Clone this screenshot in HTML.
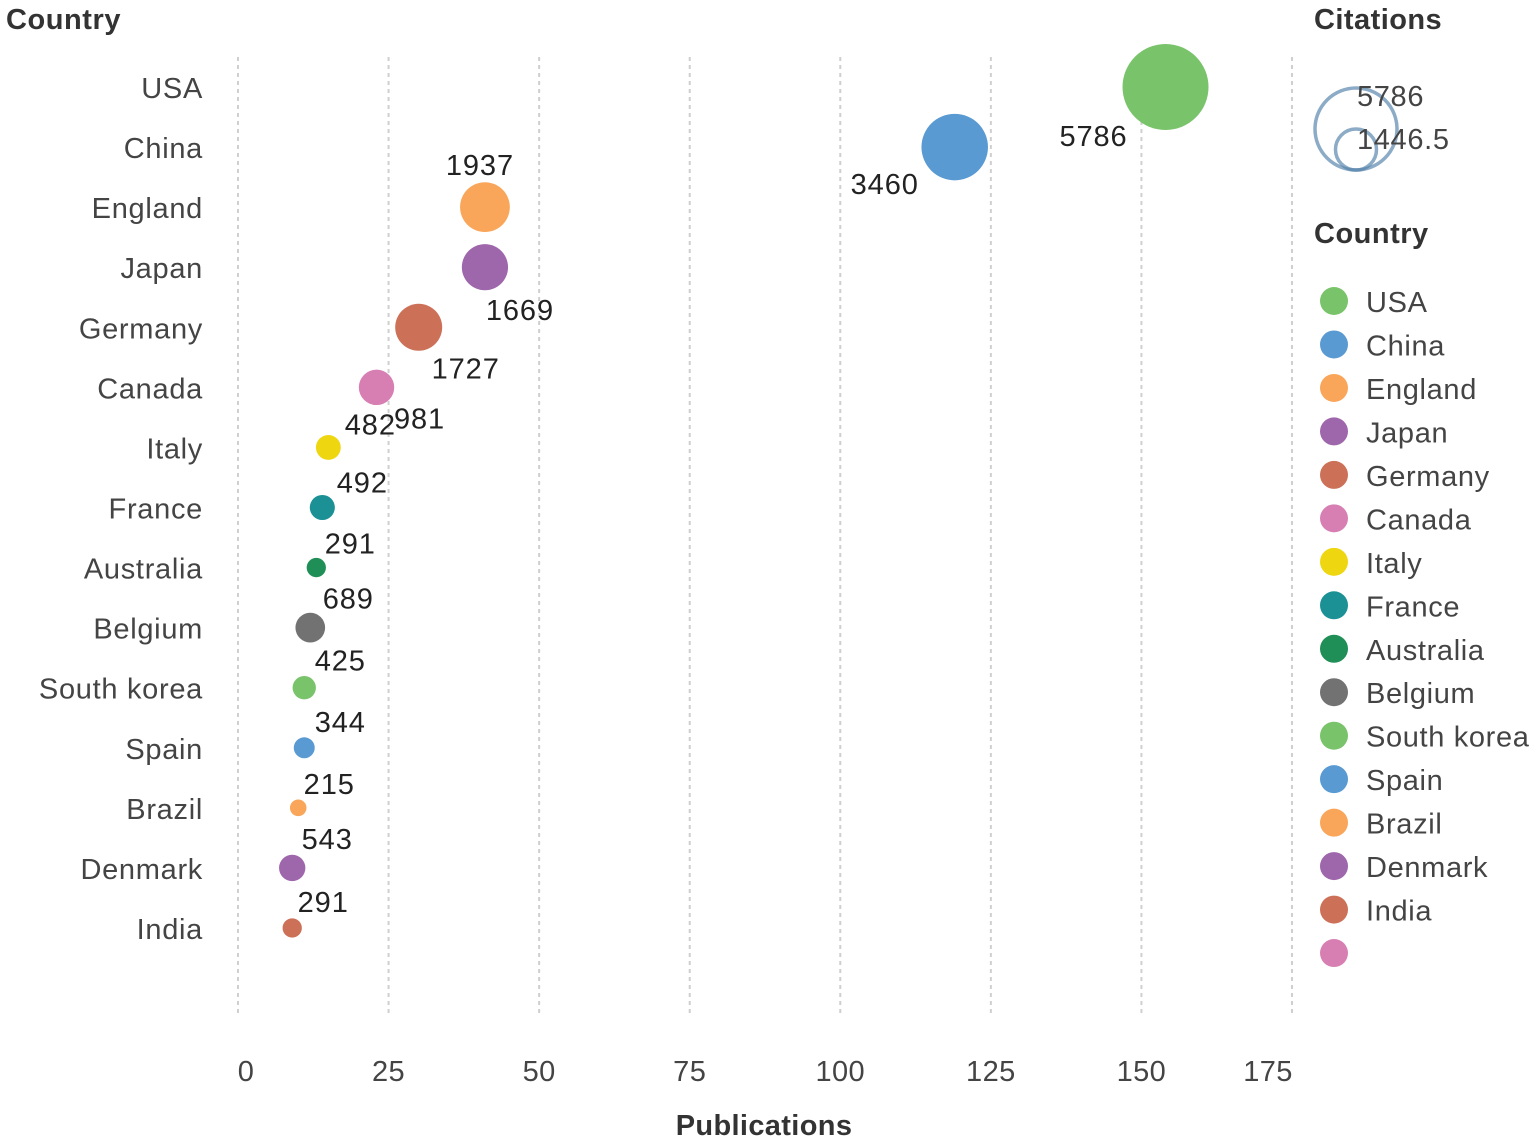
<!DOCTYPE html>
<html lang="en">
<head>
<meta charset="utf-8">
<title>Publications and citations by country</title>
<style>
  html, body { margin: 0; padding: 0; background: #fff; }
  #chart { display: block; width: 1535px; height: 1142px; }
  text { font-family: "Liberation Sans", sans-serif; }
  .cat { font-size: 29px; fill: #444; text-anchor: end; dominant-baseline: central; letter-spacing: .7px; }
  .val { font-size: 29px; fill: #222; text-anchor: middle; dominant-baseline: central; letter-spacing: .9px; }
  .tick { font-size: 29px; fill: #444; text-anchor: middle; dominant-baseline: central; letter-spacing: .4px; }
  .title { font-size: 29px; font-weight: 700; fill: #333; dominant-baseline: central; }
  .leg { font-size: 29px; fill: #444; dominant-baseline: central; letter-spacing: .65px; }
</style>
</head>
<body>
<svg id="chart" width="1535" height="1142" viewBox="0 0 1535 1142" xmlns="http://www.w3.org/2000/svg">
  <text class="title" x="6" y="20" letter-spacing=".55">Country</text>
  <text class="title" x="764" y="1126" text-anchor="middle" letter-spacing=".35">Publications</text>
  <text class="title" x="1314" y="20" letter-spacing=".45">Citations</text>
  <text class="title" x="1314" y="234" letter-spacing=".5">Country</text>
  <g id="grid"></g>
  <g id="ticks"></g>
  <g id="cats"></g>
  <g id="marks"></g>
  <g id="labels"></g>
  <g id="sizeLegend"></g>
  <g id="colorLegend"></g>
</svg>
<script>
const countries = ["USA","China","England","Japan","Germany","Canada","Italy","France","Australia","Belgium","South korea","Spain","Brazil","Denmark","India"];
const publications = [154,119,41,41,30,23,15,14,13,12,11,11,10,9,9];
const citations = [5786,3460,1937,1669,1727,981,482,492,291,689,425,344,215,543,291];
const xTicks = [0,25,50,75,100,125,150,175];
const sizeLegendValues = [5786,1446.5];

const palette = ["#79c36a","#599ad3","#f9a65a","#9e66ab","#cd7058","#d77fb3","#eed611","#1b9196","#1f8f57","#727272"];
const labelNudges = [[-72,50],[-70,38],[-5,-41],[35,44],[47,42],[43,32],[42,-22],[40,-24],[34,-23],[38,-28],[36,-26],[36,-25],[31,-23],[35,-28],[31,-25]];

const NS = "http://www.w3.org/2000/svg";
const x = v => 238 + v * (1292 - 238) / 175;
const y = i => 87 + i * 60.07;
const maxCitations = Math.max(...citations);
const r = v => 43 * Math.sqrt(v / maxCitations);

function make(tag, parent, attrs, txt) {
  const el = document.createElementNS(NS, tag);
  for (const k in attrs) el.setAttribute(k, attrs[k]);
  if (txt !== undefined) el.textContent = txt;
  document.getElementById(parent).appendChild(el);
  return el;
}
function slug(s) { return s.toLowerCase().replace(/\s+/g, "-"); }

xTicks.forEach((t, i) => {
  const line = make("line", "grid", { x1: x(t), x2: x(t), y1: 57, y2: 1013, stroke: "#cfcfcf", "stroke-width": 2, "stroke-dasharray": "4 4" });
  
  
  const shift = i === 0 ? 8 : (i === xTicks.length - 1 ? -24 : 0);
  const label = make("text", "ticks", { class: "tick", x: x(t) + shift, y: 1072 }, t);
  
  
});

countries.forEach((c, i) => {
  const color = palette[i % palette.length];
  const cat = make("text", "cats", { class: "cat", x: 203, y: y(i) + 2 }, c);
  
  

  const cx = x(publications[i]);
  const bubble = make("circle", "marks", { cx: cx, cy: y(i), r: r(citations[i]), fill: color });
  
  

  const val = make("text", "labels", { class: "val", x: cx + labelNudges[i][0], y: y(i) + labelNudges[i][1] }, citations[i]);
  
  
});

sizeLegendValues.forEach((v, i) => {
  const rad = 41 * Math.sqrt(v / sizeLegendValues[0]);
  const ring = make("circle", "sizeLegend", { cx: 1356, cy: 170 - rad, r: rad, fill: "none", stroke: "#4f7ea8", "stroke-opacity": .65, "stroke-width": 3.5 });
  
  
  const lab = make("text", "sizeLegend", { class: "leg", x: 1357, y: 97 + i * 43 }, v);
  
  
});

const legendItems = countries.concat([""]);
legendItems.forEach((c, i) => {
  const ly = 301 + i * 43.47;
  const dot = make("circle", "colorLegend", { cx: 1334, cy: ly, r: 14, fill: palette[i % palette.length] });
  
  
  if (c) {
    const t = make("text", "colorLegend", { class: "leg", x: 1366, y: ly + 2 }, c);
    
    
  }
});
</script>
</body>
</html>
